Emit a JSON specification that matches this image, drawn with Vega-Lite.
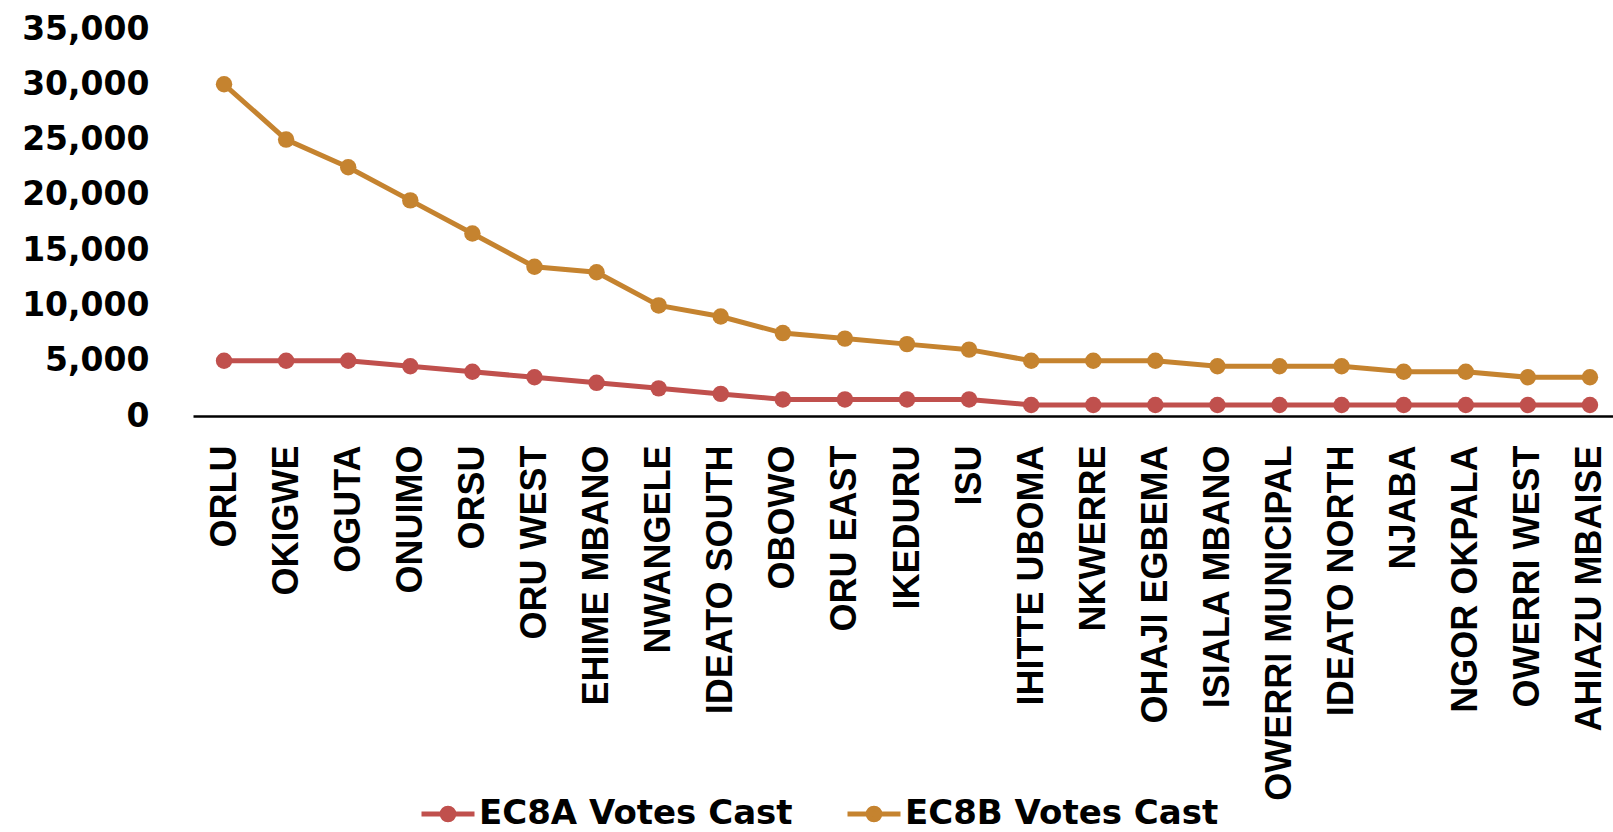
{
  "$schema": "https://vega.github.io/schema/vega-lite/v6.json",
  "autosize": "none",
  "width": 1428,
  "height": 387,
  "padding": {"left": 193, "top": 29, "right": -8, "bottom": 416},
  "background": "white",
  "config": {"view": {"stroke": null}},
  "data": {"values": [
    {"lga": "ORLU", "series": "EC8A Votes Cast", "votes": 5000},
    {"lga": "OKIGWE", "series": "EC8A Votes Cast", "votes": 5000},
    {"lga": "OGUTA", "series": "EC8A Votes Cast", "votes": 5000},
    {"lga": "ONUIMO", "series": "EC8A Votes Cast", "votes": 4500},
    {"lga": "ORSU", "series": "EC8A Votes Cast", "votes": 4000},
    {"lga": "ORU WEST", "series": "EC8A Votes Cast", "votes": 3500},
    {"lga": "EHIME MBANO", "series": "EC8A Votes Cast", "votes": 3000},
    {"lga": "NWANGELE", "series": "EC8A Votes Cast", "votes": 2500},
    {"lga": "IDEATO SOUTH", "series": "EC8A Votes Cast", "votes": 2000},
    {"lga": "OBOWO", "series": "EC8A Votes Cast", "votes": 1500},
    {"lga": "ORU EAST", "series": "EC8A Votes Cast", "votes": 1500},
    {"lga": "IKEDURU", "series": "EC8A Votes Cast", "votes": 1500},
    {"lga": "ISU", "series": "EC8A Votes Cast", "votes": 1500},
    {"lga": "IHITTE UBOMA", "series": "EC8A Votes Cast", "votes": 1000},
    {"lga": "NKWERRE", "series": "EC8A Votes Cast", "votes": 1000},
    {"lga": "OHAJI EGBEMA", "series": "EC8A Votes Cast", "votes": 1000},
    {"lga": "ISIALA MBANO", "series": "EC8A Votes Cast", "votes": 1000},
    {"lga": "OWERRI MUNICIPAL", "series": "EC8A Votes Cast", "votes": 1000},
    {"lga": "IDEATO NORTH", "series": "EC8A Votes Cast", "votes": 1000},
    {"lga": "NJABA", "series": "EC8A Votes Cast", "votes": 1000},
    {"lga": "NGOR OKPALA", "series": "EC8A Votes Cast", "votes": 1000},
    {"lga": "OWERRI WEST", "series": "EC8A Votes Cast", "votes": 1000},
    {"lga": "AHIAZU MBAISE", "series": "EC8A Votes Cast", "votes": 1000},
    {"lga": "ORLU", "series": "EC8B Votes Cast", "votes": 30000},
    {"lga": "OKIGWE", "series": "EC8B Votes Cast", "votes": 25000},
    {"lga": "OGUTA", "series": "EC8B Votes Cast", "votes": 22500},
    {"lga": "ONUIMO", "series": "EC8B Votes Cast", "votes": 19500},
    {"lga": "ORSU", "series": "EC8B Votes Cast", "votes": 16500},
    {"lga": "ORU WEST", "series": "EC8B Votes Cast", "votes": 13500},
    {"lga": "EHIME MBANO", "series": "EC8B Votes Cast", "votes": 13000},
    {"lga": "NWANGELE", "series": "EC8B Votes Cast", "votes": 10000},
    {"lga": "IDEATO SOUTH", "series": "EC8B Votes Cast", "votes": 9000},
    {"lga": "OBOWO", "series": "EC8B Votes Cast", "votes": 7500},
    {"lga": "ORU EAST", "series": "EC8B Votes Cast", "votes": 7000},
    {"lga": "IKEDURU", "series": "EC8B Votes Cast", "votes": 6500},
    {"lga": "ISU", "series": "EC8B Votes Cast", "votes": 6000},
    {"lga": "IHITTE UBOMA", "series": "EC8B Votes Cast", "votes": 5000},
    {"lga": "NKWERRE", "series": "EC8B Votes Cast", "votes": 5000},
    {"lga": "OHAJI EGBEMA", "series": "EC8B Votes Cast", "votes": 5000},
    {"lga": "ISIALA MBANO", "series": "EC8B Votes Cast", "votes": 4500},
    {"lga": "OWERRI MUNICIPAL", "series": "EC8B Votes Cast", "votes": 4500},
    {"lga": "IDEATO NORTH", "series": "EC8B Votes Cast", "votes": 4500},
    {"lga": "NJABA", "series": "EC8B Votes Cast", "votes": 4000},
    {"lga": "NGOR OKPALA", "series": "EC8B Votes Cast", "votes": 4000},
    {"lga": "OWERRI WEST", "series": "EC8B Votes Cast", "votes": 3500},
    {"lga": "AHIAZU MBAISE", "series": "EC8B Votes Cast", "votes": 3500}
  ]},
  "encoding": {
    "x": {
      "field": "lga", "type": "nominal", "sort": null,
      "scale": {"type": "point", "padding": 0.5},
      "axis": {
        "title": null, "labelAngle": -90, "ticks": false, "grid": false,
        "domainColor": "#000000", "domainWidth": 2.5,
        "labelFont": "Liberation Sans", "labelFontWeight": "bold", "labelFontSize": 36,
        "labelColor": "#000000", "labelPadding": 29, "labelLimit": 0
      }
    },
    "y": {
      "field": "votes", "type": "quantitative",
      "scale": {"domain": [0, 35000], "nice": false, "zero": true},
      "axis": {
        "title": null, "values": [0, 5000, 10000, 15000, 20000, 25000, 30000, 35000],
        "format": ",.0f", "ticks": false, "domain": false, "grid": false,
        "labelFont": "DejaVu Sans", "labelFontWeight": "bold", "labelFontSize": 33,
        "labelColor": "#000000", "labelPadding": 44
      }
    },
    "color": {
      "field": "series", "type": "nominal",
      "scale": {"domain": ["EC8A Votes Cast", "EC8B Votes Cast"], "range": ["#C0504D", "#C5832F"]},
      "legend": {
        "title": null, "orient": "none", "direction": "horizontal",
        "legendX": 226, "legendY": 756, "padding": 0,
        "symbolType": "M-1,0H1M0.22,0A0.22,0.22 0 1 1 -0.22,0A0.22,0.22 0 1 1 0.22,0Z",
        "symbolSize": 2809, "symbolStrokeWidth": 5,
        "labelFont": "DejaVu Sans", "labelFontWeight": "bold", "labelFontSize": 34,
        "labelColor": "#000000", "labelOffset": 2, "labelLimit": 0, "columnPadding": 44,
        "encode": {"symbols": {"update": {
          "fill": {"scale": "color", "field": "value"},
          "stroke": {"scale": "color", "field": "value"},
          "opacity": {"value": 1}
        }}}
      }
    }
  },
  "layer": [
    {"mark": {"type": "line", "strokeWidth": 5}},
    {"mark": {"type": "circle", "size": 270, "opacity": 1}}
  ]
}
